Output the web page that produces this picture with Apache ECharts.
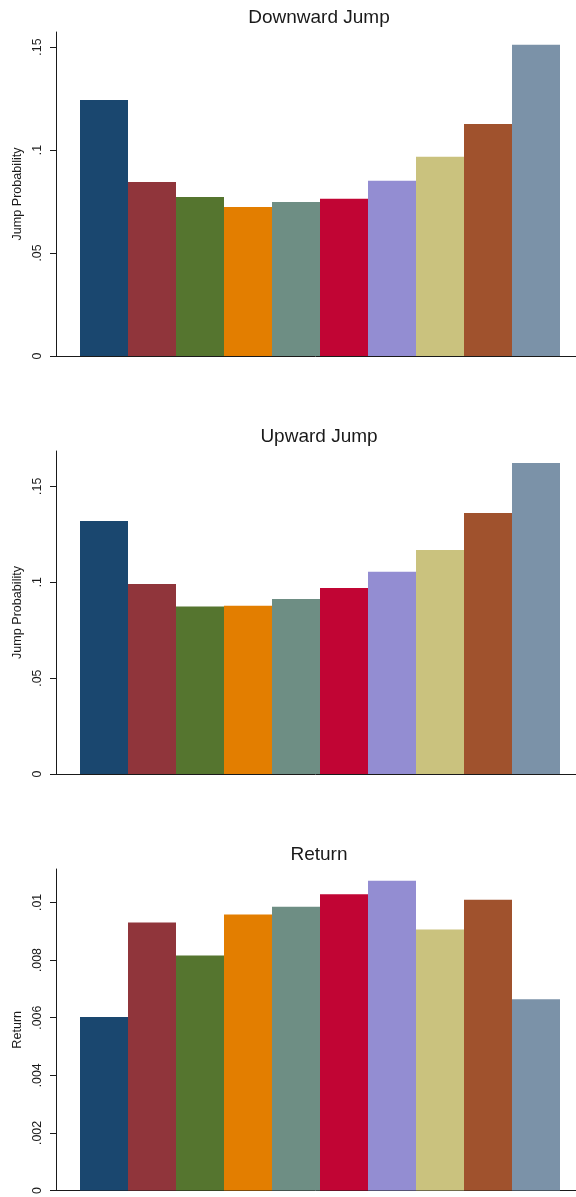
<!DOCTYPE html>
<html>
<head>
<meta charset="utf-8">
<title>Jump probabilities and returns by group</title>
<script src="https://cdn.jsdelivr.net/npm/echarts@6/dist/echarts.min.js"></script>
<style>
  html, body { margin: 0; padding: 0; background: #ffffff; }
  #chart { width: 576px; height: 1197px; }
</style>
</head>
<body>
<div id="chart"></div>
<script>
// Ten groups, one bar each, in the same order in every panel
const groups = [1, 2, 3, 4, 5, 6, 7, 8, 9, 10];

// Panel values
const downwardJump = [0.1243, 0.0845, 0.0772, 0.0723, 0.0748, 0.0764, 0.0851, 0.0967, 0.1126, 0.1511];
const upwardJump   = [0.1319, 0.0991, 0.0873, 0.0877, 0.0913, 0.0970, 0.1055, 0.1168, 0.1361, 0.1621];
const returns      = [0.00602, 0.00930, 0.00816, 0.00958, 0.00985, 0.01028, 0.01075, 0.00906, 0.01009, 0.00664];

// Tick values per panel
const jumpTicks   = [0, 0.05, 0.1, 0.15];
const returnTicks = [0, 0.002, 0.004, 0.006, 0.008, 0.01];

// Panel titles and axis titles
const panelTitles = ['Downward Jump', 'Upward Jump', 'Return'];
const axisTitles  = ['Jump Probability', 'Jump Probability', 'Return'];

// s2color-style palette
const palette = ['#1a476f', '#90353b', '#55752f', '#e37e00', '#6e8e84',
                 '#c10534', '#938dd2', '#cac27e', '#a0522d', '#7b92a8'];

const FONT = '"Liberation Sans", Arial, Helvetica, sans-serif';
const INK = '#1a1a1a';

// Leading-zero-free tick labels (".05", ".002")
const tickLabel = v => (v === 0 ? '0' : String(v).replace(/^0\./, '.'));

const panels = [
  { values: downwardJump, ticks: jumpTicks,   max: 0.1573,  top: 32,  height: 324 },
  { values: upwardJump,   ticks: jumpTicks,   max: 0.1684,  top: 451, height: 323 },
  { values: returns,      ticks: returnTicks, max: 0.01116, top: 869, height: 324 }
];

const chart = echarts.init(document.getElementById('chart'), null, { renderer: 'canvas' });

const option = {
  backgroundColor: '#ffffff',
  animation: false,
  textStyle: { fontFamily: FONT },
  title: panels.map((p, i) => ({
    text: panelTitles[i],
    left: 319,
    top: p.top - 24,
    padding: 0,
    textAlign: 'center',
    textVerticalAlign: 'top',
    textStyle: { fontFamily: FONT, fontSize: 19, fontWeight: 'normal', color: INK }
  })),
  grid: panels.map(p => ({ left: 55, right: 0, top: p.top, height: p.height, containLabel: false })),
  xAxis: panels.map((p, i) => ({
    type: 'value',
    gridIndex: i,
    // bars are 48px wide, first bar starts 25px right of the y axis
    min: 0.5 - 25 / 48,
    max: 10.5 + 16 / 48,
    axisLine: { show: true, onZero: false, lineStyle: { color: INK, width: 1 } },
    axisTick: { show: false },
    axisLabel: { show: false },
    splitLine: { show: false }
  })),
  yAxis: panels.map((p, i) => ({
    type: 'value',
    gridIndex: i,
    min: 0,
    max: p.max,
    name: axisTitles[i],
    nameLocation: 'middle',
    nameGap: 25,
    nameTextStyle: { fontFamily: FONT, fontSize: 12.6, color: INK },
    axisLine: { show: true, lineStyle: { color: INK, width: 1 } },
    axisTick: { show: true, length: 6, customValues: p.ticks, lineStyle: { color: INK } },
    axisLabel: {
      show: true,
      customValues: p.ticks,
      rotate: 90,
      margin: 11,
      fontFamily: FONT,
      fontSize: 12.4,
      color: INK,
      formatter: tickLabel
    },
    splitLine: { show: false }
  })),
  series: panels.map((p, i) => ({
    type: 'bar',
    xAxisIndex: i,
    yAxisIndex: i,
    barWidth: 48,
    data: p.values.map((v, k) => ({
      value: [groups[k], v],
      itemStyle: { color: palette[k] }
    }))
  }))
};

chart.setOption(option);
</script>
</body>
</html>
